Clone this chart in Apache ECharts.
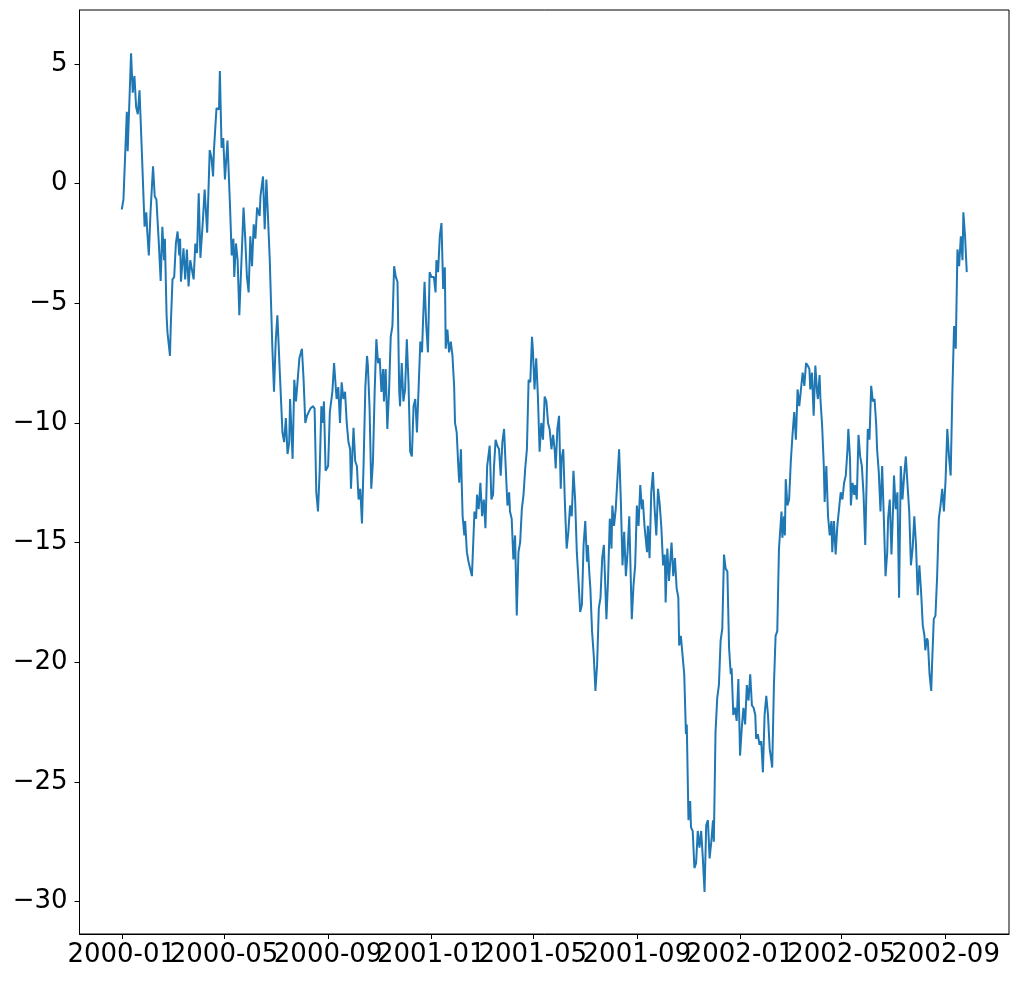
<!DOCTYPE html>
<html>
<head>
<meta charset="utf-8">
<script src="https://cdn.jsdelivr.net/npm/echarts@6/dist/echarts.min.js"></script>
<style>
  html, body { margin: 0; padding: 0; background: #ffffff; }
  #chart { width: 1018px; height: 981px; }
</style>
</head>
<body>
<div id="chart"></div>
<script>
// day offsets from 2000-01-01 and values
const days = [
  0, 2, 6, 7, 11, 13, 15, 17, 19, 21, 24, 27, 29, 30, 32, 34, 37, 39, 41, 44,
  46, 48, 50, 51, 53, 54, 57, 58, 60, 62, 64, 66, 68, 69, 70, 73, 75, 77, 79, 81,
  85, 87, 89, 91, 93, 96, 98, 101, 104, 106, 108, 109, 112, 115, 116, 118, 120, 122, 125, 128,
  130, 132, 133, 135, 137, 139, 141, 144, 146, 148, 150, 152, 154, 156, 158, 160, 163, 164, 167, 169,
  171, 173, 175, 178, 180, 182, 184, 187, 190, 192, 194, 196, 198, 199, 202, 204, 206, 208, 210, 213,
  215, 217, 219, 223, 226, 228, 230, 232, 234, 236, 238, 239, 241, 244, 246, 249, 251, 254, 256, 258,
  260, 262, 264, 266, 268, 270, 271, 274, 276, 278, 280, 282, 284, 286, 288, 290, 291, 293, 295, 297,
  299, 301, 303, 305, 307, 309, 310, 312, 314, 316, 318, 320, 322, 324, 326, 328, 329, 331, 333, 335,
  337, 339, 341, 343, 345, 347, 349, 351, 353, 355, 356, 358, 360, 362, 364, 366, 369, 371, 372, 374,
  376, 378, 380, 382, 383, 385, 387, 389, 391, 393, 394, 396, 398, 399, 401, 402, 403, 405, 406, 408,
  410, 412, 414, 417, 419, 420, 422, 424, 426, 428, 430, 432, 435, 437, 439, 440, 442, 444, 446, 448,
  450, 452, 454, 456, 458, 459, 461, 463, 465, 467, 469, 471, 473, 475, 477, 479, 481, 483, 485, 486,
  488, 490, 492, 494, 496, 498, 500, 502, 504, 506, 508, 510, 512, 513, 515, 517, 519, 520, 522, 524,
  526, 528, 530, 532, 534, 536, 538, 540, 542, 544, 546, 548, 550, 551, 553, 554, 556, 558, 560, 562,
  564, 566, 568, 570, 572, 573, 575, 577, 579, 580, 582, 584, 586, 588, 590, 592, 594, 596, 598, 600,
  602, 603, 605, 607, 609, 611, 613, 615, 616, 618, 621, 622, 624, 626, 628, 630, 632, 634, 636, 638,
  640, 642, 643, 645, 647, 649, 650, 652, 654, 656, 658, 659, 661, 663, 665, 667, 668, 670, 672, 673,
  675, 677, 679, 681, 683, 685, 687, 689, 691, 693, 695, 697, 699, 700, 702, 704, 706, 708, 710, 712,
  714, 716, 718, 720, 721, 723, 725, 727, 729, 731, 733, 735, 737, 739, 741, 743, 745, 747, 749, 750,
  752, 754, 756, 758, 760, 762, 764, 766, 769, 771, 773, 775, 777, 780, 781, 783, 784, 785, 787, 789,
  791, 793, 795, 797, 799, 801, 803, 805, 807, 809, 811, 813, 814, 816, 818, 820, 822, 823, 825, 826,
  828, 830, 831, 833, 835, 837, 839, 840, 842, 844, 846, 848, 850, 852, 854, 856, 858, 859, 861, 862,
  864, 866, 867, 869, 871, 873, 875, 877, 879, 881, 882, 884, 886, 888, 890, 892, 893, 895, 897, 899,
  901, 903, 905, 906, 908, 910, 912, 913, 915, 917, 919, 921, 923, 925, 927, 929, 931, 933, 935, 937,
  939, 941, 943, 945, 947, 949, 950, 952, 953, 955, 957, 958, 960, 962, 964, 966, 968, 970, 972, 974,
  976, 978, 980, 982, 984, 986, 988, 990, 992, 994, 995, 997, 999
];

const values = [
  -1.08, -0.67, 3.0, 1.35, 5.45, 3.8, 4.5, 3.2, 2.9, 3.9, 1.1, -1.8, -1.2, -1.9, -3.0, -1.2, 0.72, -0.53, -0.67, -2.6,
  -4.07, -1.8, -3.2, -2.3, -5.5, -6.2, -7.2, -5.9, -4.0, -3.9, -2.5, -2.0, -3.0, -2.3, -4.1, -2.7, -4.0, -2.75, -4.3, -3.2,
  -4.0, -2.5, -2.9, -0.4, -3.1, -1.5, -0.25, -2.05, 1.4, 1.1, 0.3, 1.4, 3.15, 3.1, 4.7, 1.5, 1.9, 0.17, 1.8, -0.95,
  -3.0, -2.3, -3.9, -2.5, -3.2, -5.5, -3.7, -1.0, -2.3, -3.9, -4.55, -2.2, -3.45, -1.7, -2.3, -1.0, -1.35, -0.53, 0.3, -1.9,
  0.17, -1.5, -3.2, -6.8, -8.7, -6.6, -5.5, -8.0, -10.4, -10.8, -9.8, -11.3, -10.8, -9.0, -11.5, -8.2, -9.1, -8.2, -7.3, -6.9,
  -8.2, -10.0, -9.7, -9.4, -9.3, -9.4, -12.9, -13.7, -12.0, -9.3, -10.0, -9.1, -12.0, -11.8, -9.55, -8.7, -7.5, -9.0, -8.5, -10.0,
  -8.3, -9.0, -8.7, -10.0, -10.8, -11.1, -12.75, -10.2, -11.6, -11.8, -13.2, -12.75, -14.2, -11.6, -8.5, -7.2, -7.6, -9.4, -12.75, -11.6,
  -8.7, -6.5, -7.5, -7.3, -8.7, -7.75, -9.1, -7.75, -10.25, -8.7, -6.4, -5.95, -3.45, -3.9, -4.1, -8.6, -9.3, -7.5, -9.1, -8.6,
  -6.5, -8.3, -11.2, -11.4, -9.3, -9.0, -10.4, -8.5, -6.6, -7.05, -5.95, -4.1, -5.95, -7.05, -3.7, -3.9, -3.9, -4.55, -3.2, -3.7,
  -2.2, -1.65, -4.4, -3.5, -6.9, -6.1, -7.05, -6.6, -7.2, -8.5, -10.0, -10.4, -11.9, -12.5, -11.1, -12.6, -13.9, -14.7, -14.1, -15.4,
  -15.8, -16.1, -16.4, -13.7, -14.0, -13.0, -13.6, -12.5, -13.9, -13.2, -14.4, -11.8, -10.95, -13.2, -13.0, -11.9, -10.7, -10.95, -11.1, -12.2,
  -10.8, -10.25, -11.9, -13.45, -12.9, -13.7, -14.0, -15.7, -14.7, -18.05, -15.4, -15.0, -13.6, -13.0, -11.9, -11.1, -8.2, -8.3, -6.4, -6.9,
  -8.6, -7.3, -8.9, -11.2, -10.0, -10.7, -8.9, -9.1, -10.0, -10.3, -11.1, -10.5, -11.2, -11.9, -10.25, -9.7, -12.75, -11.5, -11.1, -13.45,
  -15.25, -14.55, -13.45, -13.9, -12.0, -13.2, -15.4, -16.6, -17.9, -17.6, -15.1, -14.1, -15.8, -15.1, -16.4, -16.9, -18.7, -19.7, -21.2, -20.1,
  -17.75, -17.3, -15.65, -15.1, -15.1, -18.2, -16.5, -14.0, -15.25, -13.45, -14.3, -13.6, -12.35, -11.1, -13.2, -15.95, -14.55, -16.4, -15.4, -13.9,
  -16.8, -18.2, -16.8, -15.95, -13.45, -14.3, -12.6, -13.6, -13.2, -14.3, -15.4, -14.3, -15.65, -12.9, -12.05, -13.6, -14.7, -12.75, -13.4, -14.4,
  -15.95, -15.5, -17.5, -15.25, -16.6, -15.5, -15.0, -16.4, -15.65, -16.9, -17.3, -19.3, -18.9, -18.9, -20.5, -23.0, -22.6, -26.6, -25.8, -26.9,
  -27.05, -28.6, -28.4, -27.05, -27.75, -27.05, -28.2, -29.6, -26.8, -26.6, -28.2, -27.5, -26.6, -27.5, -22.9, -21.5, -20.95, -19.1, -18.6, -15.5,
  -16.1, -16.2, -19.4, -20.5, -20.25, -22.2, -21.9, -22.45, -20.7, -23.9, -22.75, -21.9, -22.6, -20.95, -21.6, -20.5, -21.8, -21.9, -22.2, -23.2,
  -23.0, -23.45, -23.3, -24.6, -22.2, -21.4, -22.2, -23.6, -24.4, -21.0, -18.9, -18.7, -15.25, -13.7, -14.8, -13.9, -14.7, -12.35, -13.45, -13.2,
  -11.6, -10.5, -9.55, -10.7, -8.6, -9.3, -8.6, -7.9, -8.45, -7.5, -7.6, -7.75, -8.6, -7.9, -9.7, -7.6, -8.7, -9.0, -8.0, -9.0,
  -10.1, -11.8, -13.3, -11.8, -13.9, -14.7, -14.1, -15.4, -14.1, -15.5, -14.3, -13.6, -12.9, -13.2, -12.5, -12.2, -11.1, -10.25, -11.5, -13.45,
  -12.5, -13.0, -12.6, -13.2, -10.5, -11.4, -11.8, -13.0, -15.1, -11.8, -10.25, -10.7, -8.45, -9.1, -9.0, -10.1, -11.1, -12.05, -13.7, -11.8,
  -14.0, -16.4, -15.4, -14.0, -13.2, -15.5, -13.45, -12.2, -13.6, -12.9, -17.3, -11.8, -13.2, -12.2, -11.4, -12.6, -13.7, -15.95, -15.25, -13.9,
  -15.1, -17.2, -15.95, -17.05, -18.45, -18.9, -19.5, -19.0, -19.1, -20.5, -21.2, -20.1, -18.2, -18.05, -16.4, -14.0, -13.45, -12.75, -13.7, -12.35,
  -10.25, -11.4, -12.2, -8.7, -5.95, -6.9, -2.75, -3.45, -2.2, -3.2, -1.2, -2.2, -3.7
];

const tickLabels = ['2000-01', '2000-05', '2000-09', '2001-01', '2001-05', '2001-09', '2002-01', '2002-05', '2002-09'];
const yTicks = [-30, -25, -20, -15, -10, -5, 0, 5];

const DAY = 86400000;
const origin = Date.UTC(2000, 0, 1);

function labelDay(label) {
  const [y, m] = label.split('-').map(Number);
  return Math.round((Date.UTC(y, m - 1, 1) - origin) / DAY);
}

const tickDays = tickLabels.map(labelDay);
const points = days.map((d, i) => [d, values[i]]);

// matplotlib style 5% margins
const xSpan = days[days.length - 1] - days[0];
const xMin = days[0] - xSpan * 0.05;
const xMax = days[days.length - 1] + xSpan * 0.05;
const yMin = -29.6, yMax = 5.5;
const ySpan = yMax - yMin;

const axisText = { color: '#000000', fontSize: 26, fontFamily: 'DejaVu Sans' };
const blackLine = { color: '#000000', width: 1 };

// the labels touch each other like in matplotlib; ECharts would drop
// overlapping ones, so every other label goes on a twin axis
function dateAxis(values, withTicks) {
  return {
    type: 'value',
    gridIndex: 0,
    position: 'bottom',
    min: xMin,
    max: xMax,
    axisLine: { show: withTicks, onZero: false, lineStyle: blackLine },
    axisTick: { show: withTicks, length: 5, customValues: tickDays, lineStyle: blackLine },
    axisLabel: Object.assign({}, axisText, {
      margin: 8,
      customValues: values,
      showMinLabel: true,
      showMaxLabel: true,
      hideOverlap: false,
      formatter: (v) => tickLabels[tickDays.indexOf(Math.round(v))] || '',
    }),
    splitLine: { show: false },
  };
}

const chart = echarts.init(document.getElementById('chart'), null, { renderer: 'canvas' });

chart.setOption({
  animation: false,
  backgroundColor: '#ffffff',
  grid: {
    left: 79.5,
    right: 9,
    top: 10,
    bottom: 47,
    show: true,
    borderColor: '#000000',
    borderWidth: 1,
    containLabel: false,
  },
  xAxis: [
    dateAxis(tickDays.filter((d, i) => i % 2 === 0), true),
    dateAxis(tickDays.filter((d, i) => i % 2 === 1), false),
  ],
  yAxis: {
    type: 'value',
    min: yMin - ySpan * 0.05,
    max: yMax + ySpan * 0.05,
    axisLine: { show: true, onZero: false, lineStyle: blackLine },
    axisTick: { show: true, length: 5, customValues: yTicks, lineStyle: blackLine },
    axisLabel: Object.assign({}, axisText, {
      margin: 12,
      customValues: yTicks,
      showMinLabel: true,
      showMaxLabel: true,
      formatter: (v) => String(v).replace('-', '\u2212'),
    }),
    splitLine: { show: false },
  },
  series: [{
    type: 'line',
    xAxisIndex: 0,
    data: points,
    showSymbol: false,
    symbol: 'none',
    lineStyle: { color: '#1f77b4', width: 2 },
  }],
});
</script>
</body>
</html>
